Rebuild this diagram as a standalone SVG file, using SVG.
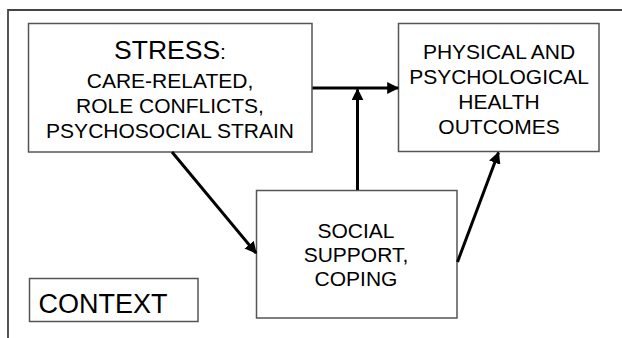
<svg xmlns="http://www.w3.org/2000/svg" width="622" height="338" viewBox="0 0 622 338">
<defs>
<style>
.box{fill:#fff;stroke:#555;stroke-width:1.5}
.frame{fill:none;stroke:#444;stroke-width:1.8}
.t{font-family:"Liberation Sans",Arial,sans-serif;font-size:21px;fill:#000;text-anchor:middle}
.c{stroke:#000;stroke-width:3;fill:none;marker-end:url(#ah)}
</style>
<marker id="ah" viewBox="0 0 10 10" refX="9" refY="5" markerWidth="4" markerHeight="4" orient="auto" markerUnits="strokeWidth">
<path d="M0,0 L10,5 L0,10 Z" fill="#000"/>
</marker>
</defs>
<rect width="622" height="338" fill="#fff"/>
<path class="frame" d="M8,338 V10 H622"/>
<g id="stress">
<rect class="box" x="28.5" y="23.5" width="283.5" height="128.5"/>
<text class="t" x="170" y="59"><tspan font-size="26.5">STRESS</tspan>:</text>
<text class="t" x="170" y="87.5">CARE-RELATED,</text>
<text class="t" x="170" y="112.5">ROLE CONFLICTS,</text>
<text class="t" x="170" y="137.5">PSYCHOSOCIAL STRAIN</text>
</g>
<g id="outcomes">
<rect class="box" x="398.5" y="23.5" width="200.5" height="128"/>
<text class="t" x="499" y="58.5">PHYSICAL AND</text>
<text class="t" x="499" y="83.5">PSYCHOLOGICAL</text>
<text class="t" x="499" y="108.5">HEALTH</text>
<text class="t" x="499" y="133.5">OUTCOMES</text>
</g>
<g id="support">
<rect class="box" x="256.5" y="190.5" width="200.5" height="127.5"/>
<text class="t" x="356" y="238">SOCIAL</text>
<text class="t" x="356" y="262">SUPPORT,</text>
<text class="t" x="356" y="286">COPING</text>
</g>
<g id="context">
<rect class="box" x="29.5" y="278.5" width="168.5" height="43"/>
<text class="t" x="38.5" y="312.5" font-size="27" text-anchor="start" style="text-anchor:start;font-size:27px">CONTEXT</text>
</g>
<g id="connectors">
<line class="c" x1="312.5" y1="88" x2="398" y2="88"/>
<line class="c" x1="357.5" y1="190" x2="357.5" y2="89.5"/>
<line class="c" x1="172" y1="152" x2="256" y2="253"/>
<line class="c" x1="457.5" y1="262" x2="498.5" y2="152.5"/>
</g>
</svg>
